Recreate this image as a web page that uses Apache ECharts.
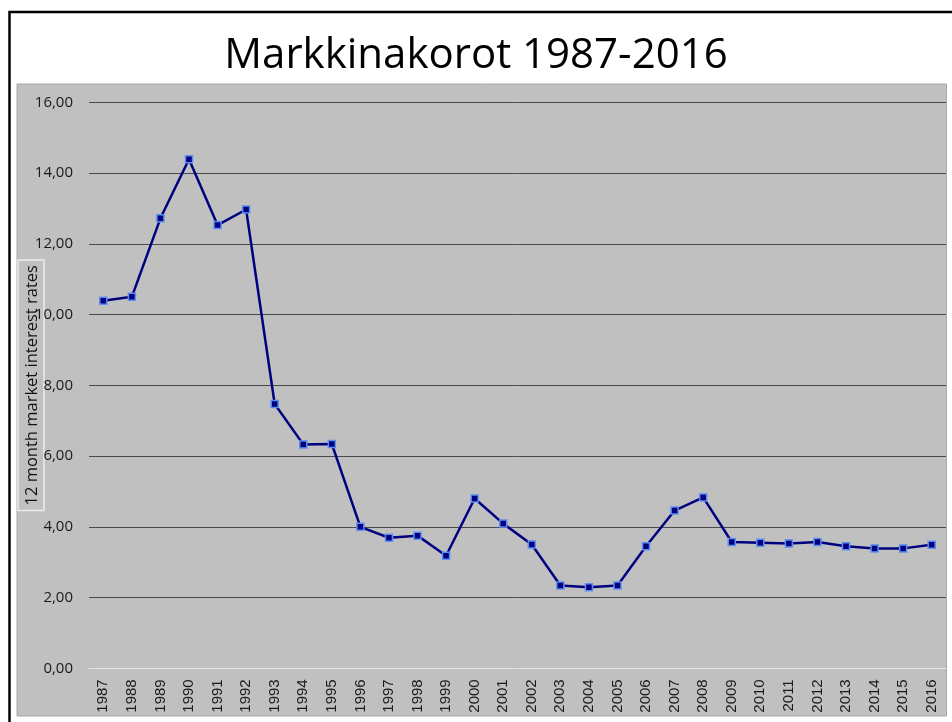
<!DOCTYPE html>
<html>
<head>
<meta charset="utf-8">
<script src="https://cdn.jsdelivr.net/npm/echarts@6/dist/echarts.min.js"></script>
<style>
  html, body { margin: 0; padding: 0; background: #fff; }
  #chart { width: 952px; height: 722px; }
</style>
</head>
<body>
<div id="chart"></div>
<script>
// vuodet ja 12 kk markkinakorot
const years = [
  "1987", "1988", "1989", "1990", "1991", "1992", "1993", "1994", "1995", "1996",
  "1997", "1998", "1999", "2000", "2001", "2002", "2003", "2004", "2005", "2006",
  "2007", "2008", "2009", "2010", "2011", "2012", "2013", "2014", "2015", "2016"
];
const rates = [
  10.39, 10.50, 12.72, 14.39, 12.53, 12.97, 7.47, 6.33, 6.34, 4.00,
  3.69, 3.75, 3.18, 4.80, 4.09, 3.50, 2.34, 2.29, 2.34, 3.45,
  4.46, 4.83, 3.57, 3.55, 3.53, 3.57, 3.45, 3.39, 3.39, 3.49
];
const titleText = "Markkinakorot 1987-2016";
const yName = "12 month market interest rates";

const chart = echarts.init(document.getElementById("chart"));
const option = {
  backgroundColor: "#fff",
  animation: false,
  title: {
    text: titleText,
    left: "center",
    top: 30,
    textStyle: {
      fontFamily: "'Open Sans', sans-serif",
      fontWeight: "normal",
      fontSize: 42,
      color: "#000"
    }
  },
  graphic: [
    {
      type: "rect",
      z: -10,
      silent: true,
      shape: { x: 9.5, y: 12, width: 960, height: 730 },
      style: { fill: "#fff", stroke: "#000", lineWidth: 2.5 }
    },
    {
      type: "rect",
      z: -9,
      silent: true,
      shape: { x: 17, y: 84, width: 929.5, height: 632 },
      style: { fill: "#c0c0c0", stroke: "#a8a8a8", lineWidth: 1 }
    }
  ],
  grid: {
    left: 89,
    right: 6,
    top: 102.3,
    bottom: 53.7,
    containLabel: false
  },
  xAxis: {
    type: "category",
    data: years,
    boundaryGap: true,
    axisLine: { lineStyle: { color: "#e4e4e4", width: 1 } },
    axisTick: { show: false },
    axisLabel: {
      rotate: 90,
      margin: 11,
      interval: 0,
      color: "#1a1a1a",
      fontSize: 15,
      fontFamily: "'Liberation Sans', Arial, sans-serif"
    }
  },
  yAxis: {
    type: "value",
    min: 0,
    max: 16,
    interval: 2,
    name: yName,
    nameLocation: "middle",
    nameRotate: 90,
    nameGap: 45,
    nameMoveOverlap: false,
    nameTextStyle: {
      fontFamily: "'Open Sans', sans-serif",
      fontSize: 16.5,
      color: "#111",
      borderColor: "#ececec",
      borderWidth: 1.5,
      padding: [6, 5, 3, 5]
    },
    axisLine: { show: false },
    axisTick: { show: false },
    splitLine: { lineStyle: { color: "#4a4a4a", width: 1 } },
    axisLabel: {
      margin: 16,
      color: "#1a1a1a",
      fontSize: 15,
      fontFamily: "'Open Sans', sans-serif",
      formatter: function (v) { return v.toFixed(2).replace(".", ","); }
    }
  },
  series: [
    {
      type: "line",
      data: rates,
      symbol: "rect",
      symbolSize: 7,
      lineStyle: { color: "#000080", width: 2.5 },
      itemStyle: { color: "#000080", borderColor: "#5b8ef0", borderWidth: 1.5 }
    }
  ]
};
chart.setOption(option);
</script>
</body>
</html>
